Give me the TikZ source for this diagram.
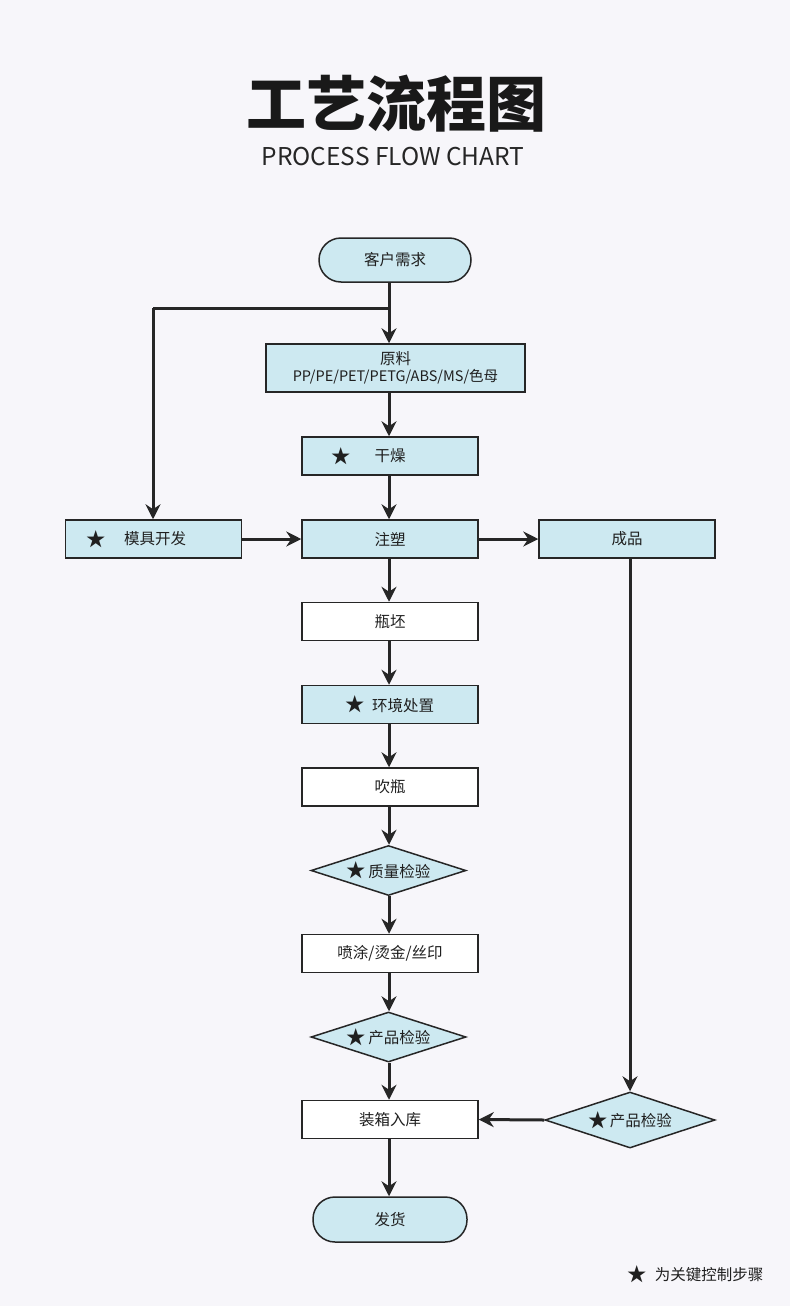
\documentclass[tikz,border=0pt]{standalone}
\usepackage{fontspec}
\setmainfont{Noto Sans CJK SC}
\newfontfamily\blackfont{Noto Sans CJK SC Black}
\usetikzlibrary{arrows.meta,shapes.geometric}
\definecolor{bg}{HTML}{F7F6FA}
\definecolor{boxblue}{HTML}{CDE9F1}
\definecolor{edge}{HTML}{262626}
\tikzset{
  base/.style={draw=edge,line width=1.5pt,minimum height=38pt,inner sep=0pt},
  bluebox/.style={base,fill=boxblue,minimum width=176pt},
  whitebox/.style={base,fill=white,minimum width=176pt},
  term/.style={base,fill=boxblue,rounded corners=22pt,minimum height=44pt},
  dia/.style={base,fill=boxblue,diamond,aspect=3.1,minimum width=155pt,minimum height=50pt},
  conn/.style={draw=edge,line width=3pt,-{Stealth[length=15pt,width=15pt,inset=5pt]}},
  plain/.style={draw=edge,line width=3pt}
}
\newcommand{\st}{\raisebox{-0.5pt}{\scalebox{1.25}{★}}}
\begin{document}
\begin{tikzpicture}[x=1pt,y=-1pt,font=\fontsize{15.5}{18}\selectfont,text=black!88]
\path[use as bounding box,fill=bg] (0,0) rectangle (790,1306);
% title
\node[text=black!90] (title) at (396,104) {\fontsize{60}{64}\selectfont\blackfont 工艺流程图};
\node[text=black!85] (sub) at (393,157) {\fontsize{24.5}{27}\selectfont PROCESS FLOW CHART};
\coordinate (col) at (389,0);
\coordinate (lcol) at (153,0);
\coordinate (turn) at (153,308);
\coordinate (join) at (389,308);
% nodes
\node[term,minimum width=152pt] (kehu) at (395,260) {客户需求};
\node[bluebox,minimum width=259pt,minimum height=48pt,align=center] (yuanliao) at (395.5,368) {原料\\[-1pt]{\fontsize{14.5}{17}\selectfont PP/PE/PET/PETG/ABS/MS/色母}};
\node[bluebox] (ganzao) at (390,456) {};
\node at (341,456) {\st};
\node at (390,456) {干燥};
\node[bluebox] (muju) at (153.5,539) {};
\node at (96,539) {\st};
\node at (155,539) {模具开发};
\node[bluebox] (zhusu) at (390,539) {注塑};
\node[bluebox] (chengpin) at (627,539) {成品};
\node[whitebox] (pipi) at (390,621.5) {瓶坯};
\node[bluebox] (huanjing) at (390,704.5) {\st\hspace{7pt}环境处置};
\node[whitebox] (chuiping) at (390,787) {吹瓶};
\node[dia] (zhiliang) at (388.5,870.5) {\st\,质量检验};
\node[whitebox] (pentu) at (390,953.5) {喷涂/烫金/丝印};
\node[dia] (chanpin1) at (388.5,1037) {\st\,产品检验};
\node[whitebox] (zhuangxiang) at (390,1119.5) {装箱入库};
\node[dia,minimum width=170pt,minimum height=56pt] (chanpin2) at (630,1120) {\st\,产品检验};
\node[term,minimum width=154pt,minimum height=45pt] (fahuo) at (390,1219.5) {发货};
\node[font=\fontsize{15.5}{18}\selectfont,anchor=west] (legend) at (624,1274) {\st\hspace{8pt}为关键控制步骤};
% connectors
\draw[conn] (kehu.south -| col) -- (yuanliao.north -| col);
\draw[plain] (join) -- (turn);
\draw[conn] (turn) -- (muju.north -| lcol);
\draw[conn] (yuanliao.south -| col) -- (ganzao.north -| col);
\draw[conn] (ganzao.south -| col) -- (zhusu.north -| col);
\draw[conn] (muju.east) -- (zhusu.west);
\draw[conn] (zhusu.east) -- (chengpin.west);
\draw[conn] (zhusu.south -| col) -- (pipi.north -| col);
\draw[conn] (pipi.south -| col) -- (huanjing.north -| col);
\draw[conn] (huanjing.south -| col) -- (chuiping.north -| col);
\draw[conn] (chuiping.south -| col) -- (zhiliang.north -| col);
\draw[conn] (zhiliang.south -| col) -- (pentu.north -| col);
\draw[conn] (pentu.south -| col) -- (chanpin1.north -| col);
\draw[conn] (chanpin1.south -| col) -- (zhuangxiang.north -| col);
\draw[conn] (zhuangxiang.south -| col) -- (fahuo.north -| col);
\draw[conn] (chengpin.south -| chanpin2.north) -- (chanpin2.north);
\draw[conn] (chanpin2.west) -- (zhuangxiang.east);
\end{tikzpicture}
\end{document}
